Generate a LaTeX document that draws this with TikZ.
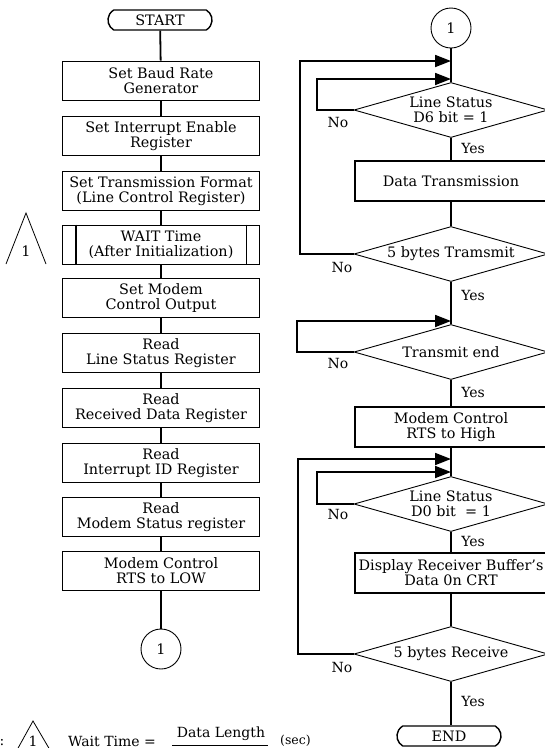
\documentclass[tikz,border=0pt]{standalone}
\usepackage{fontspec}
\setmainfont{DejaVu Serif}
\usetikzlibrary{shapes.misc,shapes.geometric,arrows.meta}
\begin{document}
\begin{tikzpicture}[x=1pt,y=-1pt,
  every node/.style={font=\fontsize{14.4}{15}\selectfont, inner sep=0pt, align=center},
  procbox/.style={draw, line width=1.8pt, minimum width=197pt, minimum height=39pt},
  rbox/.style={draw, line width=1.8pt, minimum width=192pt, minimum height=40pt},
  term/.style={draw, rounded rectangle, rounded rectangle arc length=120, line width=1.4pt, minimum width=104pt, minimum height=20pt},
  conn/.style={draw, circle, line width=0.9pt, minimum size=40pt},
  dec/.style={draw, diamond, aspect=3.6, line width=0.9pt, minimum width=194pt, minimum height=55pt},
  flow/.style={line width=1.8pt},
  rflow/.style={line width=1.2pt},
  loopline/.style={line width=1.8pt, -{Triangle[length=16pt,width=12pt]}},
  lbl/.style={font=\fontsize{14}{15}\selectfont}
]
\useasboundingbox (0,0) rectangle (545,748);
% left column
\node[term] (start) at (160,20) {START};
\node[procbox] (b1) at (161,81) {Set Baud Rate\\Generator};
\node[procbox] (b2) at (161,136) {Set Interrupt Enable\\Register};
\node[procbox] (b3) at (161,191) {Set Transmission Format\\(Line Control Register)};
\node[procbox] (b4) at (161,245) {WAIT Time\\(After Initialization)};
\draw[line width=1.8pt] ([xshift=14pt]b4.north west) -- ([xshift=14pt]b4.south west);
\draw[line width=1.8pt] ([xshift=-14pt]b4.north east) -- ([xshift=-14pt]b4.south east);
\node[procbox] (b5) at (161,298) {Set Modem\\Control Output};
\node[procbox] (b6) at (161,353) {Read\\Line Status Register};
\node[procbox] (b7) at (161,408) {Read\\Received Data Register};
\node[procbox] (b8) at (161,463) {Read\\Interrupt ID Register};
\node[procbox] (b9) at (161,517) {Read\\Modem Status register};
\node[procbox] (b10) at (161,571) {Modem Control\\RTS to LOW};
\node[conn] (c1) at (161,649) {1};
\draw[flow] (start) -- (b1);
\draw[flow] (b1) -- (b2);
\draw[flow] (b2) -- (b3);
\draw[flow] (b3) -- (b4);
\draw[flow] (b4) -- (b5);
\draw[flow] (b5) -- (b6);
\draw[flow] (b6) -- (b7);
\draw[flow] (b7) -- (b8);
\draw[flow] (b8) -- (b9);
\draw[flow] (b9) -- (b10);
\draw[flow] (b10) -- (c1);
% note triangle
\coordinate (ta) at (26,213);
\coordinate (tl) at (6,264);
\coordinate (tr) at (46,264);
\draw[line width=0.8pt] (tl) -- (ta) -- (tr);
\node (tnum) at (26,251) {1};
% right column
\node[conn] (c2) at (451,28) {1};
\node[dec] (d1) at (451,110) {Line Status\\D6 bit = 1};
\node[rbox] (r1) at (451,181) {Data Transmission};
\node[dec] (d2) at (451,254) {5 bytes Tramsmit};
\node[dec] (d3) at (451,352) {Transmit end};
\node[rbox] (r2) at (451,427) {Modem Control\\RTS to High};
\node[dec] (d4) at (451,504) {Line Status\\D0 bit \ = 1};
\node[rbox] (r3) at (451,573) {Display Receiver Buffer's\\Data 0n CRT};
\node[dec] (d5) at (451,654) {5 bytes Receive};
\node[term] (end) at (449,736) {END};
\draw[rflow] (c2) -- (d1);
\draw[rflow] (d1) -- (r1);
\draw[rflow] (r1) -- (d2);
\draw[rflow] (d2) -- (d3);
\draw[rflow] (d3) -- (r2);
\draw[rflow] (r2) -- (d4);
\draw[rflow] (d4) -- (r3);
\draw[rflow] (r3) -- (d5);
\draw[rflow] (d5.south) -- (d5.south |- end.north);
% loop targets
\coordinate (a1) at (451,61);
\coordinate (a2) at (451,79);
\coordinate (a3) at (451,321);
\coordinate (a4) at (451,459);
\coordinate (a5) at (451,472);
\draw[loopline] (d1.west) -| (317,79) -- (a2);
\draw[loopline] (d2.west) -| (300,61) -- (a1);
\draw[loopline] (d3.west) -| (297,321) -- (a3);
\draw[loopline] (d4.west) -| (317,472) -- (a5);
\draw[loopline] (d5.west) -| (298,459) -- (a4);
% labels
\node[lbl] (n1) at (338,122) {No};
\node[lbl] (y1) at (473,148) {Yes};
\node[lbl] (n2) at (342,267) {No};
\node[lbl] (y2) at (473,295) {Yes};
\node[lbl] (n3) at (338,363) {No};
\node[lbl] (y3) at (473,392) {Yes};
\node[lbl] (n4) at (338,514) {No};
\node[lbl] (y4) at (473,541) {Yes};
\node[lbl] (n5) at (342,667) {No};
\node[lbl] (y5) at (473,701) {Yes};
% bottom note
\node[lbl, anchor=base] (colon) at (2,745) {:};
\coordinate (ba) at (33,721);
\coordinate (bl) at (17,750);
\coordinate (br) at (50,750);
\draw[line width=0.8pt] (bl) -- (ba) -- (br);
\node[lbl, anchor=base] (bnum) at (33,746) {1};
\node[lbl, anchor=base west] (wt) at (68,746) {Wait Time =};
\node[lbl] (dl) at (221,734) {Data Length};
\coordinate (fb1) at (172,745);
\coordinate (fb2) at (268,745);
\draw[line width=1pt] (fb1) -- (fb2);
\node[lbl, anchor=base west, font=\fontsize{12.5}{13}\selectfont] (sec) at (280,744) {(sec)};
\end{tikzpicture}
\end{document}
